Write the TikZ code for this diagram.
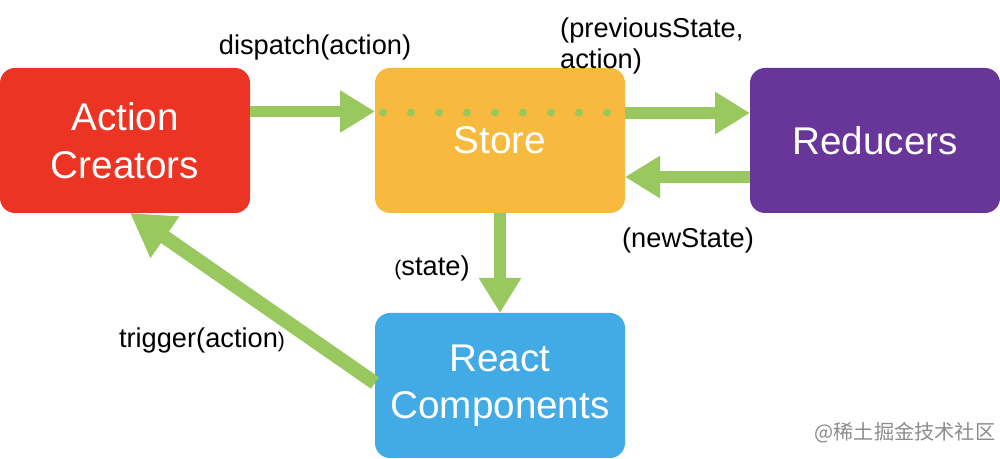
\documentclass[tikz,border=0pt]{standalone}
\usepackage{fontspec}
\setmainfont{Liberation Sans}
\newfontfamily\cjkfont{Noto Sans CJK SC}
\usetikzlibrary{arrows.meta}
\definecolor{actionred}{RGB}{236,52,36}
\definecolor{storeyellow}{RGB}{247,186,62}
\definecolor{reducerpurple}{RGB}{103,54,152}
\definecolor{reactblue}{RGB}{66,170,228}
\definecolor{flowgreen}{RGB}{152,200,94}
\begin{document}
\begin{tikzpicture}[
        box/.style={rounded corners=0.3cm, minimum width=5cm, minimum height=2.9cm,
            inner sep=0pt, outer sep=0pt, text=white, align=center,
            font=\fontsize{22}{27}\selectfont},
        flow/.style={draw=flowgreen, line width=0.23cm,
            -{Triangle[length=0.7cm, width=0.8cm]}},
        lbl/.style={font=\fontsize{15.5}{17.5}\selectfont}
    ]
        \useasboundingbox (0, 0) rectangle (20, 9.18);
        \node[box, fill=actionred] (creators) at (2.5, 6.37) {Action\\Creators};
        \node[box, fill=storeyellow] (store) at (10, 6.37) {Store};
        \node[box, fill=reducerpurple] (reducers) at (17.5, 6.37) {Reducers};
        \node[box, fill=reactblue] (react) at (10, 1.47) {React\\Components};
        % dotted line through the store
        \draw[flowgreen, line width=0.16cm, line cap=round, dash pattern=on 0pt off 0.56cm]
            ([xshift=0.16cm, yshift=0.56cm]store.west) -- ([yshift=0.56cm]store.east);
        \draw[flow] ([yshift=0.58cm]creators.east) -- ([yshift=0.58cm]store.west);
        \draw[flow] ([yshift=0.55cm]store.east) -- ([yshift=0.55cm]reducers.west);
        \draw[flow] ([yshift=-0.73cm]reducers.west) -- ([yshift=-0.73cm]store.east);
        \draw[flow] (store.south) -- (react.north);
        \draw[flow, line width=0.28cm, -{Triangle[length=0.85cm, width=0.95cm]}]
            ([yshift=0.05cm]react.west) -- ([xshift=0.1cm]creators.south);
        \node[lbl] (dispatch) at (6.3, 8.24) {dispatch(action)};
        \node[lbl, anchor=west, align=left] (previous) at (11.08, 8.26) {(previousState,\\action)};
        \node[lbl] (newstate) at (13.76, 4.38) {(newState)};
        \node[lbl] (state) at (8.64, 3.82) {{\fontsize{12}{12}\selectfont(}state)};
        \node[lbl] (trigger) at (4.04, 2.38) {trigger(action{\fontsize{12}{12}\selectfont)}};
        \node[text=black!45, font=\cjkfont\fontsize{11.5}{12}\selectfont] (mark) at (18.1, 0.52) {@稀土掘金技术社区};
    \end{tikzpicture}
\end{document}
